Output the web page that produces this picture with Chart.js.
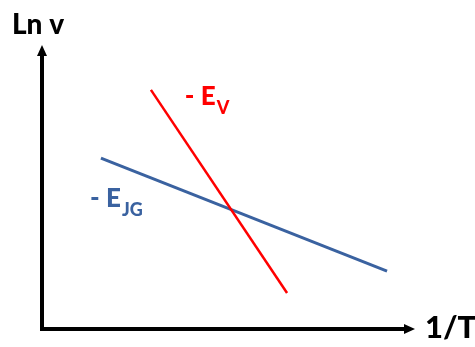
<!DOCTYPE html>
<html>
<head>
<meta charset="utf-8">
<script src="https://cdn.jsdelivr.net/npm/chart.js@4"></script>
<style>
  html, body { margin: 0; padding: 0; background: #fff; }
  canvas { display: block; }
</style>
</head>
<body>
<canvas id="arrhenius" width="475" height="347"></canvas>
<script>
// line end points, in arbitrary 0..100 units (1/T on x, Ln v on y)
const vacancyX = [29.2, 65.7];
const vacancyY = [84.2, 12.7];
const jogX = [15.8, 92.5];
const jogY = [60.2, 20.4];

// text labels next to the lines
const labelMain = ["- E", "- E"];
const labelSub = ["V", "JG"];
const labelX = [38.3, 12.9];
const labelY = [79.0, 43.0];
const labelColors = ["#ff0000", "#3a62a0"];

const xTitle = "1/T";
const yTitle = "Ln v";

const toPoints = (xs, ys) => xs.map((x, i) => ({ x: x, y: ys[i] }));

// axes with arrow heads + the text labels
const sketchPlugin = {
  id: "sketch",
  afterDatasetsDraw(chart) {
    const ctx = chart.ctx;
    const xs = chart.scales.x;
    const ys = chart.scales.y;
    const left = xs.getPixelForValue(0);
    const right = xs.getPixelForValue(100);
    const bottom = ys.getPixelForValue(0);
    const top = ys.getPixelForValue(100);

    ctx.save();
    ctx.strokeStyle = "#000";
    ctx.fillStyle = "#000";
    ctx.lineWidth = 4;
    ctx.lineCap = "butt";
    ctx.beginPath();
    ctx.moveTo(left, top + 9);
    ctx.lineTo(left, bottom + 2);
    ctx.moveTo(left - 2, bottom);
    ctx.lineTo(right - 9, bottom);
    ctx.stroke();

    // arrow heads
    ctx.beginPath();
    ctx.moveTo(left, top);
    ctx.lineTo(left + 5, top + 11);
    ctx.lineTo(left - 5, top + 11);
    ctx.closePath();
    ctx.fill();
    ctx.beginPath();
    ctx.moveTo(right, bottom);
    ctx.lineTo(right - 11, bottom - 5);
    ctx.lineTo(right - 11, bottom + 5);
    ctx.closePath();
    ctx.fill();

    // axis titles
    ctx.textBaseline = "alphabetic";
    ctx.font = "900 28px Lato";
    ctx.fillText(yTitle, 12, 34);
    ctx.font = "900 31px Lato";
    ctx.fillText(xTitle, 425, 338);

    // line labels with subscripts
    labelMain.forEach((txt, i) => {
      const px = xs.getPixelForValue(labelX[i]);
      const py = ys.getPixelForValue(labelY[i]);
      ctx.fillStyle = labelColors[i];
      ctx.font = "900 26px Lato";
      ctx.fillText(txt, px, py);
      const w = ctx.measureText(txt).width;
      ctx.font = "900 18px Lato";
      ctx.fillText(labelSub[i], px + w + 1, py + 9);
    });
    ctx.restore();
  }
};

new Chart(document.getElementById("arrhenius"), {
  type: "scatter",
  data: {
    datasets: [
      {
        label: "-E V",
        data: toPoints(vacancyX, vacancyY),
        showLine: true,
        borderColor: "#ff0000",
        borderWidth: 2.5,
        pointRadius: 0
      },
      {
        label: "-E JG",
        data: toPoints(jogX, jogY),
        showLine: true,
        borderColor: "#3a62a0",
        borderWidth: 3,
        pointRadius: 0
      }
    ]
  },
  options: {
    responsive: false,
    animation: false,
    devicePixelRatio: 1,
    layout: { padding: { left: 42, right: 60, top: 45, bottom: 18 } },
    scales: {
      x: { type: "linear", min: 0, max: 100, display: false },
      y: { type: "linear", min: 0, max: 100, display: false }
    },
    plugins: {
      legend: { display: false },
      tooltip: { enabled: false }
    }
  },
  plugins: [sketchPlugin]
});
</script>
</body>
</html>
